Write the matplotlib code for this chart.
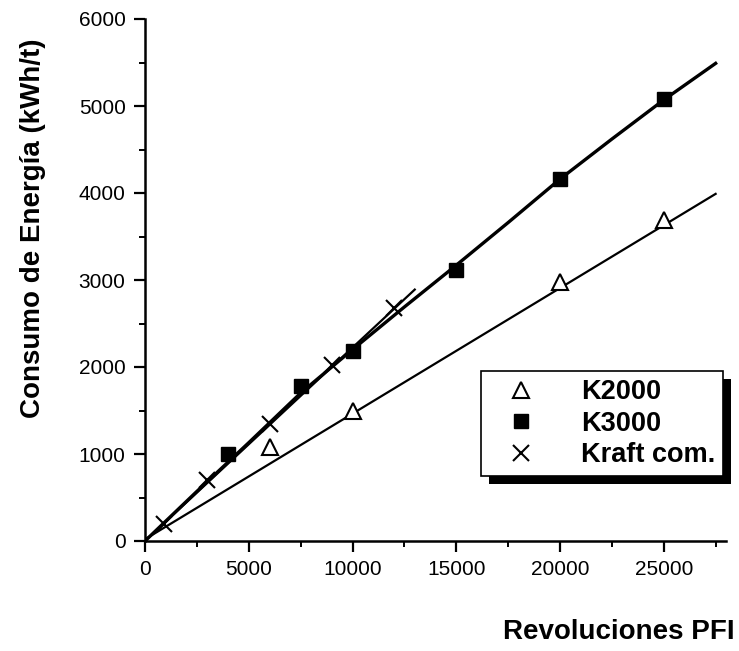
import matplotlib
matplotlib.use("Agg")
import matplotlib.pyplot as plt
from matplotlib.patches import Rectangle
from matplotlib.ticker import MultipleLocator

plt.rcParams['font.family'] = ['Liberation Sans', 'DejaVu Sans']

# measured points
k2000_x = [6000, 10000, 20000, 25000]
k2000_y = [1080, 1500, 2980, 3690]
k3000_x = [4000, 7500, 10000, 15000, 20000, 25000]
k3000_y = [1000, 1780, 2180, 3110, 4160, 5080]
kraft_x = [900, 3000, 6000, 9000, 12000]
kraft_y = [200, 700, 1350, 2020, 2680]

# fitted lines as drawn in the original
k2000_fit_x = [0, 27500]
k2000_fit_y = [20, 3990]
k3000_fit_x = [0, 2500, 5000, 7500, 10000, 12500, 15000, 17500, 20000, 22500, 25000, 27500]
k3000_fit_y = [0, 570, 1130, 1700, 2200, 2690, 3170, 3660, 4160, 4620, 5070, 5490]
kraft_fit_x = [0, 13000]
kraft_fit_y = [0, 2890]

fig = plt.figure(figsize=(7.39, 6.51), dpi=100)
ax = fig.add_axes([145/739, 110/651, 581/739, 522/651])

ax.plot(k2000_fit_x, k2000_fit_y, color='black', lw=1.6, zorder=2)
ax.plot(k3000_fit_x, k3000_fit_y, color='black', lw=2.4, zorder=2)
ax.plot(kraft_fit_x, kraft_fit_y, color='black', lw=1.6, zorder=2)

ax.plot(k2000_x, k2000_y, ls='none', marker='^', ms=12, mfc='white',
        mec='black', mew=1.5, zorder=3, label='K2000')
ax.plot(k3000_x, k3000_y, ls='none', marker='s', ms=10, mfc='black',
        mec='black', zorder=3, label='K3000')
ax.plot(kraft_x, kraft_y, ls='none', marker='x', ms=12, color='black',
        mew=1.5, zorder=3, label='Kraft com.')

ax.set_xlim(0, 28000)
ax.set_ylim(0, 6000)
ax.xaxis.set_major_locator(MultipleLocator(5000))
ax.xaxis.set_minor_locator(MultipleLocator(2500))
ax.yaxis.set_major_locator(MultipleLocator(1000))
ax.yaxis.set_minor_locator(MultipleLocator(500))

for s in ['top', 'right']:
    ax.spines[s].set_visible(False)
for s in ['left', 'bottom']:
    ax.spines[s].set_linewidth(1.8)
ax.tick_params(which='major', direction='out', length=8, width=1.6,
               labelsize=15, pad=6)
ax.tick_params(which='minor', direction='out', length=4, width=1.4)

fig.text(33/739, 1 - 228/651, 'Consumo de Energía (kWh/t)', rotation=90,
         ha='center', va='center', fontsize=20, fontweight='bold')
fig.text(735/739, 1 - 632/651, 'Revoluciones PFI', ha='right', va='center',
         fontsize=20, fontweight='bold')

leg = ax.legend(loc='upper left', bbox_to_anchor=(0.578, 0.325),
                borderaxespad=0, frameon=True, fancybox=False, framealpha=1,
                prop={'size': 19.5, 'weight': 'bold'}, handletextpad=1.0,
                handlelength=2.4, labelspacing=0.2, borderpad=0.3)
leg.get_frame().set_edgecolor('black')
leg.get_frame().set_linewidth(1.2)
leg.set_zorder(5)

# shadow under the legend box
fig.canvas.draw()
bb = leg.get_window_extent().transformed(fig.transFigure.inverted())
shadow = Rectangle((bb.x0 + 8/739, bb.y0 - 8/651), bb.width, bb.height,
                   transform=fig.transFigure, facecolor='black',
                   edgecolor='none', zorder=4, clip_on=False)
ax.add_artist(shadow)

fig.savefig('out.png', dpi=100)
